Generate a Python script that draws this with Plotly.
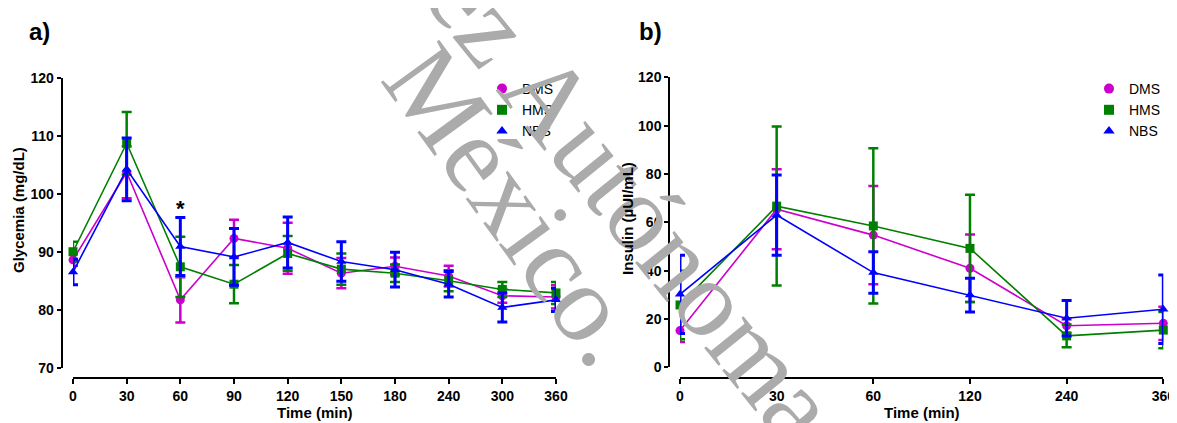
import plotly.graph_objects as go

# ---------------- data ----------------
times_gly = ["0", "30", "60", "90", "120", "150", "180", "240", "300", "360"]
dms_gly = [88.7, 103.8, 81.8, 92.4, 90.7, 86.4, 87.6, 85.9, 82.5, 82.3]
dms_gly_err = [1.0, 4.5, 3.9, 3.2, 4.4, 2.6, 1.5, 1.8, 1.2, 2.0]
hms_gly = [90.1, 108.8, 87.5, 84.5, 89.8, 87.1, 86.4, 85.1, 83.6, 83.0]
hms_gly_err = [1.7, 5.4, 5.2, 3.3, 3.0, 2.7, 1.5, 1.8, 1.3, 1.9]
nbs_gly = [86.6, 104.3, 91.0, 89.2, 91.7, 88.4, 87.0, 84.5, 80.5, 81.8]
nbs_gly_err = [2.2, 5.4, 5.0, 4.9, 4.4, 3.4, 3.0, 2.2, 2.5, 2.0]

times_ins = ["0", "30", "60", "120", "240", "360"]
dms_ins = [15.2, 65.4, 54.7, 41.0, 17.2, 18.2]
dms_ins_err = [4.7, 16.5, 20.3, 14.0, 3.0, 6.9]
hms_ins = [25.8, 66.7, 58.5, 49.2, 13.0, 15.4]
hms_ins_err = [14.2, 32.9, 32.1, 22.2, 4.7, 7.5]
nbs_ins = [30.2, 63.0, 39.2, 29.9, 20.3, 24.0]
nbs_ins_err = [16.2, 16.6, 8.6, 7.0, 7.3, 14.2]

groups = ["DMS", "HMS", "NBS"]
colors = {"DMS": "#CC00CC", "HMS": "#008000", "NBS": "#0000FF"}
symbols = {"DMS": "circle", "HMS": "square", "NBS": "triangle-up"}
err_thick = {"DMS": 2.5, "HMS": 2.5, "NBS": 3}

# page body has an 8px margin: size the figure so it fits the window
OFF = 8
W, H = 1177 - OFF, 423 - OFF
def px(x):
    return (x - OFF) / W
def py(y):
    return 1 - (y - OFF) / H

FONT = "Liberation Sans, Arial, sans-serif"

fig = go.Figure()

gly = {"DMS": (dms_gly, dms_gly_err), "HMS": (hms_gly, hms_gly_err), "NBS": (nbs_gly, nbs_gly_err)}
ins = {"DMS": (dms_ins, dms_ins_err), "HMS": (hms_ins, hms_ins_err), "NBS": (nbs_ins, nbs_ins_err)}

for g in groups:
    vals, errs = gly[g]
    fig.add_trace(go.Scatter(
        x=list(range(len(times_gly))), y=vals, mode="lines+markers",
        line=dict(color=colors[g], width=1.6),
        marker=dict(symbol=symbols[g], size=9, color=colors[g]),
        error_y=dict(type="data", array=errs, color=colors[g], thickness=err_thick[g], width=5),
        xaxis="x", yaxis="y", showlegend=False, cliponaxis=False, name=g))
for g in groups:
    vals, errs = ins[g]
    fig.add_trace(go.Scatter(
        x=list(range(len(times_ins))), y=vals, mode="lines+markers",
        line=dict(color=colors[g], width=1.6),
        marker=dict(symbol=symbols[g], size=9, color=colors[g]),
        error_y=dict(type="data", array=errs, color=colors[g], thickness=err_thick[g], width=5),
        xaxis="x2", yaxis="y2", showlegend=False, cliponaxis=False, name=g))

# legend-only entries
for lg in ["legend", "legend2"]:
    for g in groups:
        fig.add_trace(go.Scatter(
            x=[None], y=[None], mode="markers", name=g,
            marker=dict(symbol=symbols[g], size=10, color=colors[g]),
            xaxis="x" if lg == "legend" else "x2",
            yaxis="y" if lg == "legend" else "y2",
            legend=lg, showlegend=True))

tickfont = dict(family=FONT, size=14, color="black", weight="bold")

common_x = dict(showgrid=False, zeroline=False, showline=True, linecolor="black",
                ticks="outside", ticklen=5, tickcolor="black", tickfont=tickfont,
                anchor="free", position=py(378.3), automargin=False)
common_y = dict(showgrid=False, zeroline=False, showline=True, linecolor="black",
                ticks="outside", ticklen=4, tickcolor="black", tickfont=tickfont,
                anchor="free", automargin=False)

fig.update_layout(
    width=W, height=H,
    margin=dict(l=0, r=0, t=0, b=0, autoexpand=False),
    paper_bgcolor="white", plot_bgcolor="white",
    font=dict(family=FONT, color="black"),
    xaxis=dict(common_x, domain=[px(73), px(556)], range=[0, len(times_gly) - 1],
               tickmode="array", tickvals=list(range(len(times_gly))), ticktext=times_gly,
               linewidth=2.2, tickwidth=2),
    yaxis=dict(common_y, domain=[py(368.3), py(78.3)], range=[70, 120],
               tickvals=[70, 80, 90, 100, 110, 120], position=px(61.7),
               linewidth=2.2, tickwidth=2),
    xaxis2=dict(common_x, domain=[px(680), px(1163.3)], range=[0, len(times_ins) - 1],
                tickmode="array", tickvals=list(range(len(times_ins))), ticktext=times_ins,
                linewidth=1.5, tickwidth=1.5),
    yaxis2=dict(common_y, domain=[py(367.3), py(77.3)], range=[0, 120],
                tickvals=[0, 20, 40, 60, 80, 100, 120], position=px(669),
                linewidth=1.5, tickwidth=1.5),
    legend=dict(x=px(482), y=py(73), xanchor="left", yanchor="top",
                bgcolor="rgba(0,0,0,0)", itemwidth=30,
                font=dict(family=FONT, size=14, color="black")),
    legend2=dict(x=px(1089), y=py(73), xanchor="left", yanchor="top",
                 bgcolor="rgba(0,0,0,0)", itemwidth=30,
                 font=dict(family=FONT, size=14, color="black")),
)

C = dict(xanchor="center", yanchor="middle", showarrow=False, xref="paper", yref="paper")
ann = []
# watermark
wm_font = dict(family="Liberation Serif, Times New Roman, serif", size=110, color="#ababab")
ann.append(dict(C, text="México.", x=px(516), y=py(205), textangle=54, font=wm_font))
ann.append(dict(C, text="ez Autónoma", x=px(632), y=py(200), textangle=51, font=wm_font))
# panel labels
pl = dict(family=FONT, size=24, color="black", weight="bold")
ann.append(dict(C, text="a)", x=px(39), y=py(31), font=pl))
ann.append(dict(C, text="b)", x=px(650), y=py(31), font=pl))
# axis titles
tf = dict(family=FONT, size=15, color="black", weight="bold")
ann.append(dict(C, text="Glycemia (mg/dL)", x=px(19), y=py(210), textangle=-90, font=tf))
ann.append(dict(C, text="Insulin (µUI/mL)", x=px(628), y=py(218), textangle=-90, font=tf))
ann.append(dict(C, text="Time (min)", x=px(315), y=py(412), font=tf))
ann.append(dict(C, text="Time (min)", x=px(921.6), y=py(412), font=tf))
# significance mark at 60 min
ann.append(dict(text="*", x=2, y=97.6, xref="x", yref="y", showarrow=False,
                xanchor="center", yanchor="middle",
                font=dict(family=FONT, size=22, color="black", weight="bold")))

fig.update_layout(annotations=ann)

fig.write_html("out.html")
